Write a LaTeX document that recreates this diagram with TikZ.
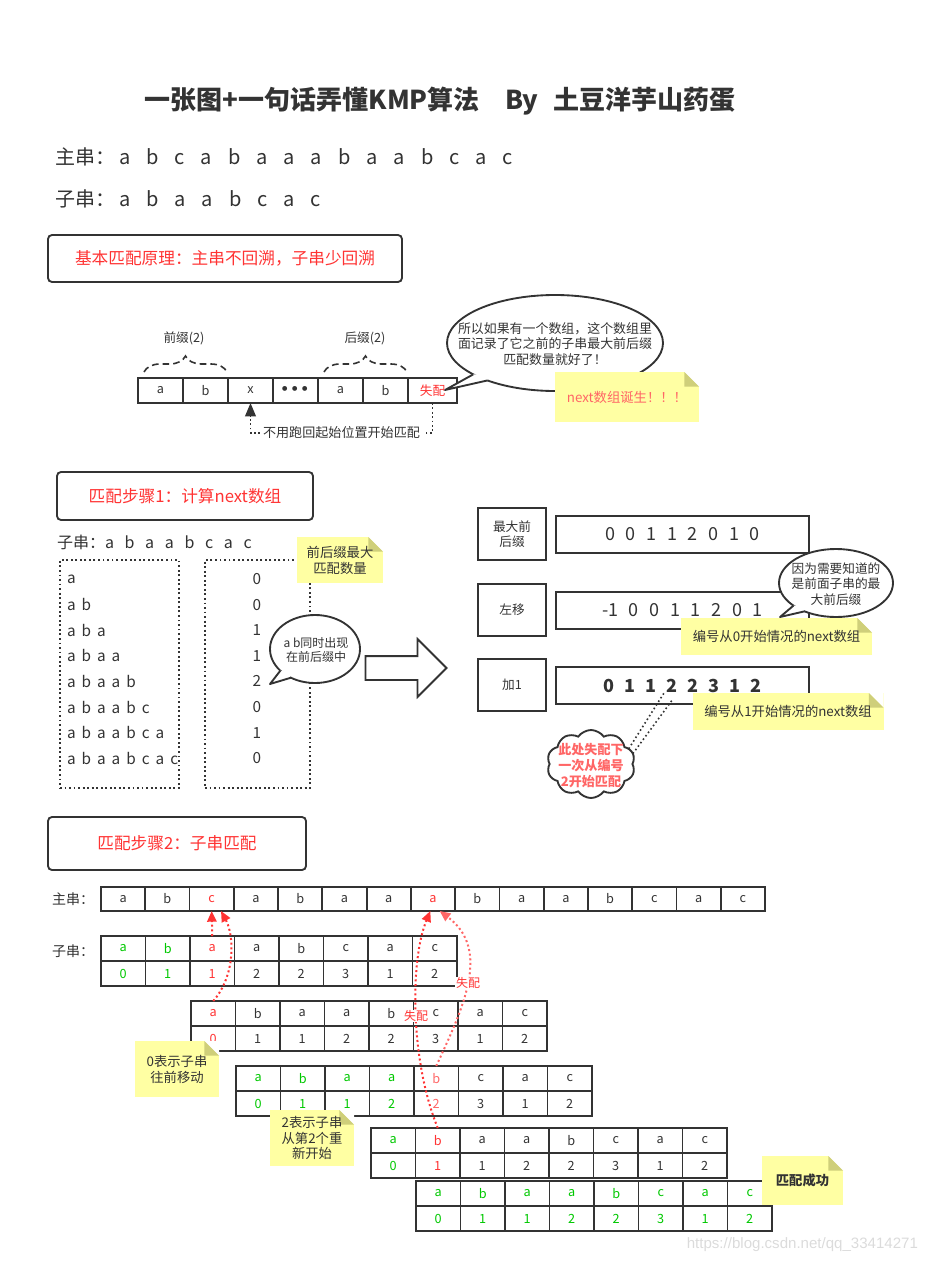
\documentclass[tikz,border=0pt]{standalone}
\usepackage{fontspec}
\setmainfont{Noto Sans CJK SC}
\newfontfamily\urlfont{Liberation Sans}
\usetikzlibrary{arrows.meta, positioning, shapes.geometric, shapes.symbols,
                shapes.arrows, calc, decorations.pathreplacing}

\definecolor{inkgray}{HTML}{333333}
\definecolor{kmpred}{HTML}{FF3333}
\definecolor{kmplight}{HTML}{FF6666}
\definecolor{kmpgreen}{HTML}{00C800}
\definecolor{notefill}{HTML}{FFFFA3}
\definecolor{notefold}{HTML}{CFCF7A}
\colorlet{G}{kmpgreen}
\colorlet{R}{kmpred}
\colorlet{L}{kmplight}
\colorlet{K}{inkgray}

\newcommand{\kfont}[2]{\fontsize{#1}{#2}\selectfont}

\begin{document}
\begin{tikzpicture}[
    x=0.75pt, y=-0.75pt,
    every node/.style={text=inkgray, inner sep=0pt, outer sep=0pt},
    frame/.style={draw=inkgray, line width=1.4pt},
    section/.style={frame, rounded corners=3pt, text=kmpred,
                    font=\kfont{12.5}{15}},
    slot/.style={frame, minimum width=33.75pt, minimum height=18.75pt,
                 font=\kfont{9.5}{11}, anchor=north west},
    cell/.style={frame, minimum width=33.375pt, minimum height=18.75pt,
                 font=\kfont{9.5}{11}, anchor=north west},
    bubble/.style={ellipse, frame, fill=white},
    note/.style={fill=notefill, align=center,
      path picture={
        \coordinate (ne) at (path picture bounding box.north east);
        \fill[white] ([xshift=-11pt]ne) -- (ne) -- ([yshift=-11pt]ne) -- cycle;
        \fill[notefold] ([xshift=-11pt]ne) -- ([shift={(-11pt,-11pt)}]ne)
          -- ([yshift=-11pt]ne) -- cycle;
      }},
    spaced/.style={execute at begin node={\spaceskip=#1\relax}},
    hop/.style={line width=1.5pt, dotted, -{Triangle[length=8pt, width=7pt]}},
    link/.style={inkgray, line width=1.2pt, dotted}
  ]
  \useasboundingbox (0,0) rectangle (925,1263);

  % title and strings
  \node[font=\kfont{19.5}{24}\bfseries] (title) at (440,101)
    {一张图+一句话弄懂KMP算法\hspace{19pt}By\hspace{11pt}土豆洋芋山药蛋};
  \node[font=\kfont{15}{18}, spaced=12pt, anchor=west] (mainstr) at (55,157)
    {主串：\hspace{3pt}a b c a b a a a b a a b c a c};
  \node[font=\kfont{15}{18}, spaced=12pt, anchor=west] (substr) at (55,199)
    {子串：\hspace{3pt}a b a a b c a c};

  % basic principle
  \node[section, minimum width=265.5pt, minimum height=35.25pt] (basic)
    at (225,258.5) {基本匹配原理：主串不回溯，子串少回溯};

  \foreach \t [count=\i from 0] in {a,b,x,{\kfont{13}{13}\bfseries\textbullet
      \kern-5.5pt\textbullet\kern-5.5pt\textbullet},a,b}
    \node[slot] (t\i) at (138+45*\i,378) {\t};
  \node[slot, minimum width=36.75pt, text=kmpred] (t6) at (408,378) {失配};

  \draw[inkgray, line width=1.2pt, dash pattern=on 5pt off 3pt, decorate,
        decoration={brace, amplitude=12pt}]
    ([shift={(6,-6)}]t0.north west) -- ([shift={(-1,-6)}]t1.north east);
  \draw[inkgray, line width=1.2pt, dash pattern=on 5pt off 3pt, decorate,
        decoration={brace, amplitude=12pt}]
    ([shift={(6,-6)}]t4.north west) -- ([shift={(-1,-6)}]t5.north east);
  \node[font=\kfont{9.5}{11}] (pre) at (184,338) {前缀(2)};
  \node[font=\kfont{9.5}{11}] (suf) at (365,338) {后缀(2)};

  % back to x, not to the start
  \draw[inkgray, line width=1.3pt, dotted, -{Triangle[length=10pt, width=8pt]}]
    (t6.south) -- ++(0,30) -| node[pos=0.25, fill=white, inner xsep=2pt,
      font=\kfont{9.8}{12}] (keep) {不用跑回起始位置开始匹配} (t2.south);

  % bubble: the idea
  \node[bubble, minimum width=162pt, minimum height=72pt] (idea) at (555,343) {};
  \coordinate (idea tip) at (445,390);
  \fill[white] (idea.201) -- (idea tip) -- (idea.209)
    -- ($(idea.205)!0.1!(idea.center)$) -- cycle;
  \draw[frame, line join=round] (idea.201) -- (idea tip) -- (idea.209);
  \node[align=center, font=\kfont{9.7}{11.5}] (idea text) at (555,344)
    {所以如果有一个数组，这个数组里\\面记录了它之前的子串最大前后缀\\匹配数量就好了！};
  \node[note, minimum width=108pt, minimum height=37.5pt, text=kmplight,
        font=\kfont{10}{12}] (born) at (627,397) {next数组诞生！！！};

  % step 1
  \node[section, minimum width=192pt, minimum height=36pt] (step1)
    at (185,496) {匹配步骤1：计算next数组};
  \node[font=\kfont{12}{14}, spaced=8pt, anchor=west] (pattern) at (57,542)
    {子串：a b a a b c a c};

  \node[frame, dotted, minimum width=89.25pt, minimum height=171pt] (prefixes)
    at (119.5,674) {};
  \node[frame, dotted, minimum width=78.75pt, minimum height=171pt] (counts)
    at (257.5,674) {};
  \foreach \s [count=\i from 0] in {a,a b,a b a,a b a a,a b a a b,a b a a b c,
      a b a a b c a,a b a a b c a c}
    \node[font=\kfont{11.5}{13}, spaced=4.5pt, anchor=west] (p\i)
      at (67,579+25.6*\i) {\s};
  \foreach \nm [count=\i from 0] in {0,0,1,1,2,0,1,0}
    \node[font=\kfont{11.5}{13}] (q\i) at (257,579+25.6*\i) {\nm};

  \node[note, minimum width=64.5pt, minimum height=34.5pt, font=\kfont{10}{12}]
    (maxnote) at (340,560) {前后缀最大\\匹配数量};

  % bubble: ab
  \node[bubble, minimum width=67.5pt, minimum height=51pt] (both) at (315,649) {};
  \coordinate (both tip) at (270,684);
  \fill[white] (both.212) -- (both tip) -- (both.230)
    -- ($(both.221)!0.1!(both.center)$) -- cycle;
  \draw[frame, line join=round] (both.212) -- (both tip) -- (both.230);
  \node[align=center, font=\kfont{9}{11}] (both text) at (316,650)
    {a b同时出现\\在前后缀中};

  \node[single arrow, frame, fill=white, minimum height=60.75pt,
        inner xsep=0pt, inner ysep=8.25pt, single arrow head extend=12.75pt,
        single arrow head indent=0pt] (push) at (400,668) {};

  % next arrays
  \node[frame, minimum width=51pt, minimum height=39pt, align=center,
        font=\kfont{9.5}{11.5}] (lab0) at (512,534) {最大前\\后缀};
  \node[frame, minimum width=51pt, minimum height=39pt,
        font=\kfont{9.5}{11.5}] (lab1) at (512,610) {左移};
  \node[frame, minimum width=51pt, minimum height=39pt,
        font=\kfont{9.5}{11.5}] (lab2) at (512,685) {加1};
  \node[frame, minimum width=189.75pt, minimum height=27.75pt,
        font=\kfont{13.5}{16}, spaced=8pt] (val0) at (682.5,534.5)
    {0 0 1 1 2 0 1 0};
  \node[frame, minimum width=189.75pt, minimum height=27.75pt,
        font=\kfont{13.5}{16}, spaced=8pt] (val1) at (682.5,610.5)
    {-1 0 0 1 1 2 0 1};
  \node[frame, minimum width=189.75pt, minimum height=27.75pt,
        font=\kfont{13.5}{16}\bfseries, spaced=7.5pt] (val2) at (682.5,685.5)
    {0 1 1 2 2 3 1 2};

  \node[bubble, minimum width=85.5pt, minimum height=51pt] (why) at (836,583) {};
  \coordinate (why tip) at (780,617);
  \fill[white] (why.208) -- (why tip) -- (why.222)
    -- ($(why.215)!0.1!(why.center)$) -- cycle;
  \draw[frame, line join=round] (why.208) -- (why tip) -- (why.222);
  \node[align=center, font=\kfont{9.5}{11.6}] (why text) at (836,584)
    {因为需要知道的\\是前面子串的最\\大前后缀};

  \node[note, minimum width=143.25pt, minimum height=27.75pt, font=\kfont{10}{12}]
    (from0) at (776.5,636.5) {编号从0开始情况的next数组};
  \node[note, minimum width=143.25pt, minimum height=27.75pt, font=\kfont{10}{12}]
    (from1) at (788,711.5) {编号从1开始情况的next数组};

  % cloud
  \node[cloud, frame, fill=white, cloud puffs=10, cloud puff arc=110,
        aspect=1.3, minimum width=66pt, minimum height=51pt] (cloud)
    at (591,764) {};
  \node[align=center, text=kmplight, font=\kfont{9.8}{12}\bfseries]
    (cloud text) at (591,766) {此处失配下\\一次从编号\\2开始匹配};
  \coordinate (hit a) at (664,693);
  \coordinate (hit b) at (673,699);
  \draw[link] (cloud.22) -- (hit a);
  \draw[link] (cloud.14) -- (hit b);

  % step 2
  \node[section, minimum width=193.5pt, minimum height=39.75pt] (step2)
    at (177,843.5) {匹配步骤2：子串匹配};

  \node[font=\kfont{10.5}{12}] (mainlab) at (73,899) {主串：};
  \foreach \ch [count=\i from 0] in {a,b,c,a,b,a,a,a,b,a,a,b,c,a,c} {
    \pgfmathsetmacro{\mcol}{(\i==2 || \i==7) ? "kmpred" : "inkgray"}
    \node[cell, minimum width=33.2pt, minimum height=18pt, text=\mcol] (m\i)
      at (101+44.27*\i,887) {\ch};
  }

  \node[font=\kfont{10.5}{12}] (sublab) at (73,951) {子串：};
  \foreach \row/\rx/\ry/\cells in {
      1/101/936/{a/0/G,b/1/G,a/1/R,a/2/K,b/2/K,c/3/K,a/1/K,c/2/K},
      2/191/1001/{a/0/R,b/1/K,a/1/K,a/2/K,b/2/K,c/3/K,a/1/K,c/2/K},
      3/236/1066/{a/0/G,b/1/G,a/1/G,a/2/G,b/2/L,c/3/K,a/1/K,c/2/K},
      4/371/1128/{a/0/G,b/1/R,a/1/K,a/2/K,b/2/K,c/3/K,a/1/K,c/2/K},
      5/416/1181/{a/0/G,b/1/G,a/1/G,a/2/G,b/2/G,c/3/G,a/1/G,c/2/G}} {
    \foreach \ch/\nm/\kc [count=\i from 0] in \cells {
      \node[cell, text=\kc] (s\row-c\i) at (\rx+44.5*\i,\ry) {\ch};
      \node[cell, text=\kc] (s\row-n\i) at (\rx+44.5*\i,\ry+25) {\nm};
    }
  }

  % mismatch jumps
  \draw[hop, kmpred] (s1-c2.north) -- (m2.south);
  \draw[hop, kmpred] (s2-c0.north) .. controls (236,975) and (234,935)
    .. ([xshift=7pt]m2.south);
  \draw[hop, kmpred] (s4-c1.north) .. controls (410,1060) and (410,960)
    .. ([xshift=-2pt]m7.south);
  \draw[hop, kmplight] (s3-c4.north) .. controls (462,1010) and (492,950)
    .. ([xshift=5pt]m7.south);
  \node[fill=white, text=kmpred, font=\kfont{9}{10}, inner sep=0.5pt] (miss1)
    at (416,1016) {失配};
  \node[fill=white, text=kmpred, font=\kfont{9}{10}, inner sep=0.5pt] (miss2)
    at (468,983) {失配};

  \node[note, minimum width=63pt, minimum height=42pt, font=\kfont{10}{12}]
    (back0) at (177,1069) {0表示子串\\往前移动};
  \node[note, minimum width=63pt, minimum height=42pt, font=\kfont{10}{11.5}]
    (restart) at (312,1138) {2表示子串\\从第2个重\\新开始};
  \node[note, minimum width=60.75pt, minimum height=36.75pt,
        font=\kfont{10}{12}\bfseries] (done) at (802.5,1180.5) {匹配成功};

  \node[font=\urlfont\fontsize{11.3}{13}\selectfont, text=black!14, anchor=east]
    (mark) at (918,1245) {https://blog.csdn.net/qq\_33414271};
\end{tikzpicture}
\end{document}
